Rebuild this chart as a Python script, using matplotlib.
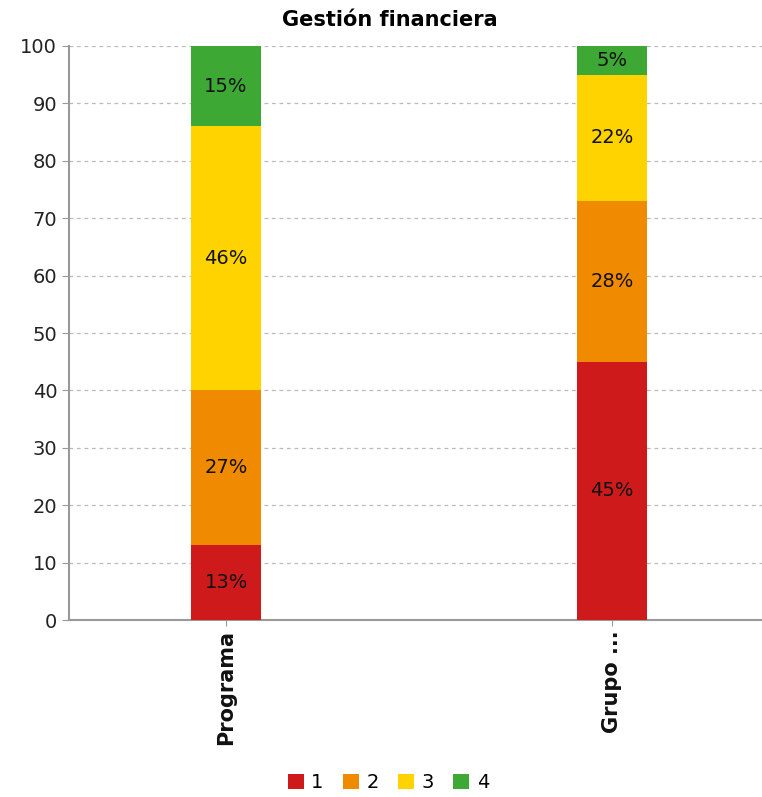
import numpy as np
import matplotlib.pyplot as plt
from matplotlib.patches import Patch

categories = ["Programa", "Grupo ..."]
series_names = ["1", "2", "3", "4"]
colors = ["#CF1A1B", "#F08A00", "#FFD300", "#3DA834"]
# percent per category, one list per series
values = [
    [13, 45],
    [27, 28],
    [46, 22],
    [14, 5],
]
labels = [
    ["13%", "45%"],
    ["27%", "28%"],
    ["46%", "22%"],
    ["15%", "5%"],
]

fig = plt.figure(figsize=(7.62, 7.97), dpi=100)
ax = fig.add_axes([0.0906, 0.222, 0.9094, 0.7203])

x = np.arange(len(categories))
bottom = np.zeros(len(categories))
for i in range(len(series_names)):
    v = np.array(values[i], dtype=float)
    bars = ax.bar(x, v, 0.18, bottom=bottom, color=colors[i], zorder=3,
                  edgecolor="none")
    for j, b in enumerate(bars):
        ax.text(b.get_x() + b.get_width() / 2, bottom[j] + v[j] / 2, labels[i][j],
                ha="center", va="center", fontsize=14, color="#111111", zorder=4)
    bottom += v

ax.set_xlim(-0.407, 1.389)
ax.set_ylim(0, 100)
ax.set_yticks(np.arange(0, 101, 10))
ax.set_xticks(x)
ax.set_xticklabels(categories, rotation=90, fontsize=15, fontweight="bold")
ax.tick_params(axis="y", labelsize=14, colors="#999999", labelcolor="#222222", length=5)
ax.tick_params(axis="x", colors="#999999", labelcolor="#111111", length=4)
ax.yaxis.grid(True, linestyle=(0, (3, 3)), color="#bbbbbb", linewidth=0.9, zorder=0)
for s in ["top", "right"]:
    ax.spines[s].set_visible(False)
for s in ["left", "bottom"]:
    ax.spines[s].set_color("#999999")
    ax.spines[s].set_linewidth(1.5)

fig.text(0.512, 0.975, "Gestión financiera", ha="center", va="center",
         fontsize=15, fontweight="bold")

handles = [Patch(facecolor=c, edgecolor="none") for c in colors]
fig.legend(handles, series_names, loc="center", bbox_to_anchor=(0.51, 0.018), ncol=4,
           frameon=False, fontsize=14, handlelength=0.8, handleheight=0.8,
           handletextpad=0.4, columnspacing=1.0)

plt.savefig("out.png", dpi=100)
